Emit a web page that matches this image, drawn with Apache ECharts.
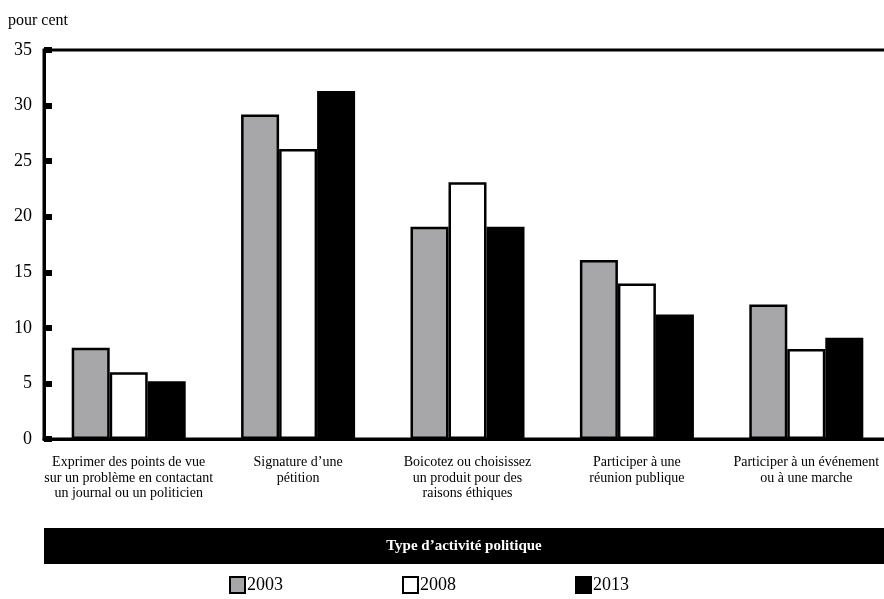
<!DOCTYPE html>
<html><head><meta charset="utf-8">
<script src="https://cdn.jsdelivr.net/npm/echarts@6/dist/echarts.min.js"></script>
<style>html,body{margin:0;padding:0;background:#fff}#c{width:884px;height:599px}</style>
</head><body><div id="c"></div>
<script>
const categories = [
  "Exprimer des points de vue\nsur un problème en contactant\nun journal ou un politicien",
  "Signature d’une\npétition",
  "Boicotez ou choisissez\nun produit pour des\nraisons éthiques",
  "Participer à une\nréunion publique",
  "Participer à un événement\nou à une marche"
];
const seriesNames = ["2003", "2008", "2013"];
const v2003 = [8.2, 29.2, 19.1, 16.1, 12.1];
const v2008 = [6.0, 26.1, 23.1, 14.0, 8.1];
const v2013 = [5.2, 31.3, 19.1, 11.2, 9.1];
const yTicks = [0, 5, 10, 15, 20, 25, 30, 35];
const colors = ["#a7a7aa", "#ffffff", "#000000"];
const FONT = "'Liberation Serif', 'DejaVu Serif', serif";

const chart = echarts.init(document.getElementById('c'), null, {renderer: 'canvas'});
const values = [v2003, v2008, v2013];
chart.setOption({
  animation: false,
  textStyle: {fontFamily: FONT, color: '#000'},
  grid: {left: 44, top: 50, width: 847, height: 389, outerBoundsMode: 'none', containLabel: false,
         show: true, borderColor: '#000', borderWidth: 3, backgroundColor: 'transparent'},
  legend: {
    left: 229, top: 576, padding: 0, itemWidth: 15, itemHeight: 16, itemGap: 119, icon: 'rect',
    textStyle: {fontFamily: FONT, fontSize: 18, color: '#000', padding: [3, 0, 0, -3]},
    data: seriesNames
  },
  xAxis: {
    type: 'category', data: categories,
    axisLine: {show: true, lineStyle: {color: '#000', width: 3}},
    axisTick: {show: false},
    axisLabel: {interval: 0, fontFamily: FONT, fontSize: 14, lineHeight: 15.5, color: '#000', margin: 16}
  },
  yAxis: {
    type: 'value', min: yTicks[0], max: yTicks[yTicks.length - 1], interval: 5,
    axisLine: {show: true, lineStyle: {color: '#000', width: 3}},
    axisTick: {show: true, inside: true, length: 8, lineStyle: {color: '#000', width: 6}},
    splitLine: {show: false},
    axisLabel: {fontFamily: FONT, fontSize: 18, color: '#000', margin: 12}
  },
  graphic: [
    {type: 'text', left: 8, top: 13, style: {text: 'pour cent', font: '16px ' + FONT, fill: '#000'}},
    {type: 'rect', shape: {x: 44, y: 528, width: 840, height: 36}, style: {fill: '#000'}},
    {type: 'text', x: 464, y: 546, style: {text: 'Type d’activité politique', font: 'bold 15px ' + FONT, fill: '#fff', textAlign: 'center', textVerticalAlign: 'middle'}}
  ],
  series: seriesNames.map((n, i) => ({
    name: n, type: 'bar', data: values[i],
    barGap: '0%', barCategoryGap: '32.7%',
    itemStyle: {color: colors[i], borderColor: '#000', borderWidth: 2.5}
  }))
});
</script></body></html>
